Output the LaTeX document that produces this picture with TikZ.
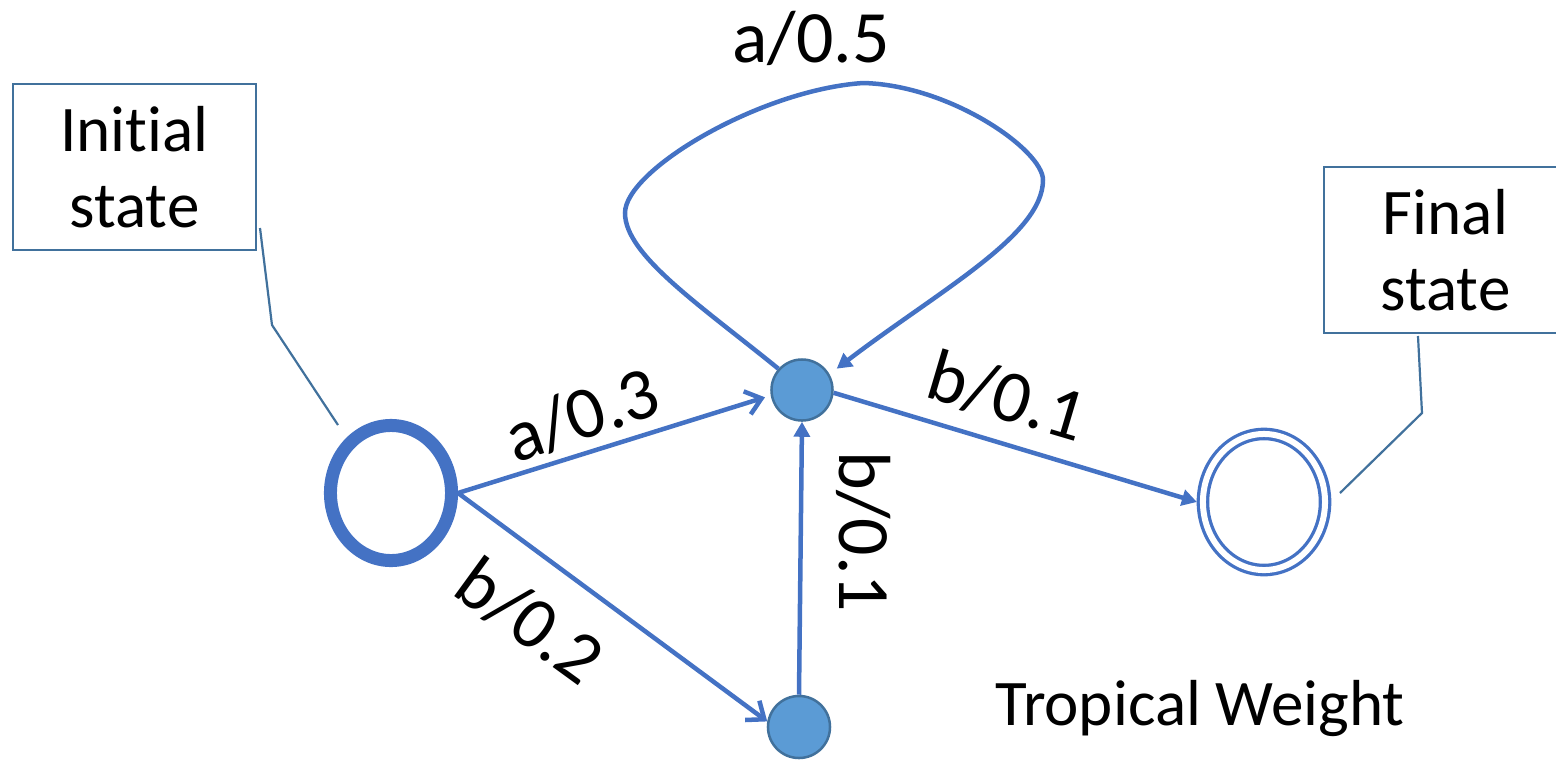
\documentclass[tikz,border=0pt]{standalone}
\usepackage{fontspec}
\setmainfont{Carlito}[Ligatures=NoCommon]
\usetikzlibrary{arrows.meta,shapes.geometric}
\definecolor{edgeblue}{HTML}{4472C4}
\definecolor{nodefill}{HTML}{5B9BD5}
\definecolor{nodeline}{HTML}{41719C}
\begin{document}
\begin{tikzpicture}[x=0.01cm,y=-0.01cm,
  every node/.style={inner sep=0pt},
  edgeline/.style={draw=edgeblue,line width=0.045cm},
  barb/.style={-{Straight Barb[length=0.15cm,width=0.24cm]}},
  tri/.style={-{Triangle[length=0.15cm,width=0.16cm]}},
  dot/.style={circle,fill=nodefill,draw=nodeline,line width=0.025cm},
  callbox/.style={draw=nodeline,line width=0.022cm,minimum width=2.43cm,minimum height=1.66cm,align=center,font=\fontsize{18.5}{21.8}\selectfont},
  callline/.style={draw=nodeline,line width=0.022cm},
  lbl/.style={font=\fontsize{21}{25}\selectfont},
  txt/.style={font=\fontsize{18.5}{21.8}\selectfont}
]
\useasboundingbox (0,0) rectangle (1556,760);
\clip (0,0) rectangle (1556,760);

% callout boxes
\node[callbox] (ibox) at (134.5,167) {Initial\\state};
\node[callbox] (fbox) at (1445.5,250) {Final\\state};

% states
\node[ellipse,draw=edgeblue,line width=0.13cm,minimum width=1.21cm,minimum height=1.35cm] (init) at (391,493) {};
\node[ellipse,draw=edgeblue,double=white,double distance=0.06cm,line width=0.033cm,minimum width=1.22cm,minimum height=1.36cm,outer sep=0.06cm] (fin) at (1264,502) {};
\node[dot,minimum size=0.61cm] (q1) at (802,390) {};
\node[dot,minimum size=0.62cm] (q2) at (799,727) {};

% callout lines
\coordinate (ia) at (260,228);
\coordinate (ib) at (272,325);
\coordinate (ic) at (338,425);
\draw[callline] (ia) -- (ib) -- (ic);
\coordinate (fa) at (1418,336);
\coordinate (fb) at (1422,413);
\coordinate (fc) at (1340,493);
\draw[callline] (fa) -- (fb) -- (fc);

% edges
\draw[edgeline,barb,shorten >=0.06cm] (init.east) -- (q1.190);
\draw[edgeline,barb] (init.east) -- (q2.170);
\draw[edgeline,tri] (q2.north) -- (q1.south);
\draw[edgeline,tri] (q1.-5) -- (fin.west);
\draw[edgeline,tri,shorten >=0.09cm] (q1.138) .. controls (700,305) and (625,255) .. (625,213)
  .. controls (625,170) and (760,90) .. (863,83)
  .. controls (950,85) and (1043,150) .. (1043,180)
  .. controls (1043,235) and (940,290) .. (q1.30);

% labels
\node[lbl,anchor=base] (l5) at (811,62) {a/0.5};
\node[lbl,rotate=19] (l3) at (582,415) {a/0.3};
\node[lbl,rotate=-16.5] (l1) at (1007,396) {b/0.1};
\node[lbl,rotate=-36] (l2) at (530,621) {b/0.2};
\node[lbl,rotate=-90] (l1v) at (864,532) {b/0.1};
\node[txt,anchor=base] (tw) at (1200,725) {Tropical Weight};
\end{tikzpicture}
\end{document}
